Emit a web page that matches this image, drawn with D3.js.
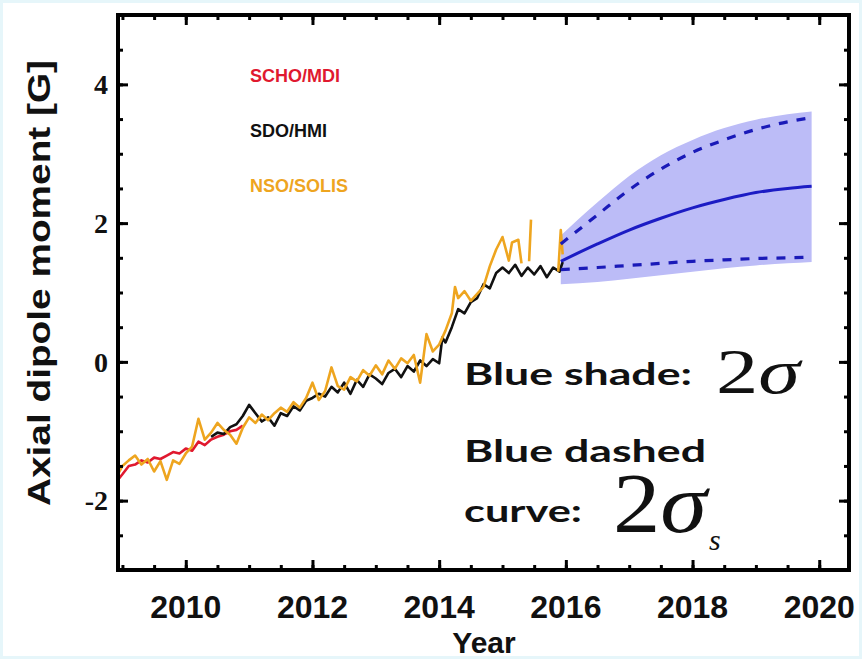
<!DOCTYPE html>
<html>
<head>
<meta charset="utf-8">
<script src="https://cdn.jsdelivr.net/npm/d3@7"></script>
<style>
  html, body { margin: 0; padding: 0; background: #fff; }
  svg { display: block; }
</style>
</head>
<body>
<svg id="chart" width="862" height="659"></svg>
<script>
// ---- Observations: axial dipole moment [G] ----
const mdiYears = [2008.93, 2009.0, 2009.1, 2009.2, 2009.3, 2009.4, 2009.5, 2009.6, 2009.7, 2009.8, 2009.9,
  2010.0, 2010.1, 2010.2, 2010.3, 2010.4, 2010.5, 2010.6, 2010.7, 2010.8, 2010.9];
const mdiValues = [-1.70, -1.62, -1.50, -1.48, -1.42, -1.45, -1.38, -1.40, -1.35, -1.30, -1.32,
  -1.25, -1.28, -1.15, -1.20, -1.12, -1.08, -1.05, -1.00, -0.98, -0.92];

const hmiYears = [2010.4, 2010.5, 2010.6, 2010.7, 2010.8, 2010.9, 2011.0, 2011.1, 2011.2, 2011.3, 2011.4,
  2011.5, 2011.6, 2011.7, 2011.8, 2011.9, 2012.0, 2012.1, 2012.2, 2012.3, 2012.4, 2012.5, 2012.6,
  2012.7, 2012.8, 2012.9, 2013.0, 2013.1, 2013.2, 2013.3, 2013.4, 2013.5, 2013.6, 2013.7, 2013.8,
  2013.9, 2014.0, 2014.05, 2014.1, 2014.2, 2014.3, 2014.4, 2014.5, 2014.6, 2014.7, 2014.8, 2014.9,
  2015.0, 2015.1, 2015.2, 2015.3, 2015.4, 2015.5, 2015.6, 2015.7, 2015.8, 2015.9, 2015.95];
const hmiValues = [-1.08, -1.02, -1.04, -0.94, -0.90, -0.78, -0.62, -0.74, -0.86, -0.80, -0.92,
  -0.74, -0.78, -0.64, -0.70, -0.56, -0.52, -0.46, -0.50, -0.36, -0.44, -0.30, -0.46,
  -0.26, -0.36, -0.18, -0.24, -0.32, -0.16, -0.10, -0.22, -0.06, -0.14, 0.02, -0.06,
  0.04, -0.02, 0.35, 0.28, 0.50, 0.76, 0.70, 0.86, 0.92, 1.12, 1.06, 1.28,
  1.36, 1.28, 1.40, 1.24, 1.36, 1.26, 1.38, 1.22, 1.36, 1.30, 1.44];

const solisYears = [2008.93, 2009.0, 2009.1, 2009.2, 2009.3, 2009.4, 2009.5, 2009.6, 2009.7, 2009.8, 2009.9,
  2010.0, 2010.1, 2010.2, 2010.3, 2010.4, 2010.5, 2010.6, 2010.7, 2010.8, 2010.9,
  2011.0, 2011.1, 2011.2, 2011.3, 2011.4, 2011.5, 2011.6, 2011.7, 2011.8, 2011.9,
  2012.0, 2012.1, 2012.2, 2012.3, 2012.4, 2012.5, 2012.6, 2012.7, 2012.8, 2012.9,
  2013.0, 2013.1, 2013.2, 2013.3, 2013.4, 2013.5, 2013.6, 2013.7, 2013.8, 2013.9,
  2014.0, 2014.1, 2014.2, 2014.25, 2014.3, 2014.4, 2014.5, 2014.6, 2014.7, 2014.8, 2014.9,
  2015.0, 2015.1, 2015.15, 2015.25, 2015.3, 2015.35, 2015.42, 2015.45, 2015.5, 2015.88, 2015.92, 2015.95];
const solisValues = [-1.62, -1.50, -1.42, -1.35, -1.48, -1.40, -1.58, -1.43, -1.70, -1.42, -1.47,
  -1.32, -1.22, -0.82, -1.12, -1.02, -0.88, -0.98, -1.05, -1.18, -0.95,
  -0.80, -0.88, -0.76, -0.84, -0.74, -0.66, -0.72, -0.58, -0.66, -0.52,
  -0.30, -0.55, -0.42, -0.08, -0.35, -0.40, -0.22, -0.28, -0.12, -0.20,
  -0.05, -0.18, 0.02, -0.10, 0.05, -0.02, 0.10, -0.30, 0.40, 0.15,
  0.25, 0.45, 0.70, 1.08, 0.92, 1.02, 0.88, 0.98, 1.08, 1.38, 1.62,
  1.80, 1.46, 1.72, 1.76, 1.42, null, 1.45, 2.05, null, 1.30, 1.90, 1.55];

// ---- Prediction ----
const predYears = [2015.92, 2016.5, 2017.0, 2017.5, 2018.0, 2018.5, 2019.0, 2019.5, 2019.88];
const predMean = [1.45, 1.70, 1.90, 2.07, 2.22, 2.34, 2.44, 2.50, 2.53];
const predBandHigh = [1.82, 2.30, 2.68, 2.98, 3.20, 3.37, 3.49, 3.57, 3.61];
const predBandLow = [1.12, 1.15, 1.20, 1.25, 1.30, 1.35, 1.39, 1.42, 1.44];
const predDashHigh = [1.70, 2.12, 2.48, 2.78, 3.02, 3.20, 3.35, 3.46, 3.52];
const predDashLow = [1.33, 1.36, 1.39, 1.42, 1.45, 1.47, 1.49, 1.50, 1.51];

// ---- Axes ----
const xMajorTicks = [2010, 2012, 2014, 2016, 2018, 2020];
const xMinorTicks = d3.range(2009, 2020.01, 0.5);
const yMajorTicks = [-2, 0, 2, 4];
const yMinorTicks = d3.range(-3, 5.01, 0.5);

const legendLabels = ["SCHO/MDI", "SDO/HMI", "NSO/SOLIS"];
const legendColors = ["#e0192f", "#111111", "#eea51f"];

const svg = d3.select("#chart");
const W = 862, H = 659;
const frameL = 118, frameR = 849, frameT = 15, frameB = 570;

// faint tinted border of the canvas
svg.append("rect").attr("x", 1.5).attr("y", 1.5).attr("width", W - 3).attr("height", H - 3)
  .attr("fill", "#fff").attr("stroke", "#e6f6fa").attr("stroke-width", 3);

const x = d3.scaleLinear().domain([2008.93, 2020.47]).range([frameL, frameR]);
const y = d3.scaleLinear().domain([-3, 5]).range([frameB, frameT]);

const plot = svg.append("g");
plot.append("clipPath").attr("id", "clip").append("rect")
  .attr("x", frameL).attr("y", frameT).attr("width", frameR - frameL).attr("height", frameB - frameT);
const clipped = plot.append("g").attr("clip-path", "url(#clip)");

// prediction band
const band = predYears.map((t, i) => ({ t, lo: predBandLow[i], hi: predBandHigh[i] }));
clipped.append("path").datum(band)
  .attr("fill", "#bcbcf7")
  .attr("d", d3.area().x(d => x(d.t)).y0(d => y(d.lo)).y1(d => y(d.hi)).curve(d3.curveMonotoneX));

const lineOf = (ys, vs) => ys.map((t, i) => ({ t, v: vs[i] }));
const line = d3.line().defined(d => d.v !== null).x(d => x(d.t)).y(d => y(d.v));
const smooth = d3.line().x(d => x(d.t)).y(d => y(d.v)).curve(d3.curveMonotoneX);

// observations
[[mdiYears, mdiValues, legendColors[0]],
 [hmiYears, hmiValues, legendColors[1]],
 [solisYears, solisValues, legendColors[2]]].forEach(([ys, vs, c]) => {
  clipped.append("path").datum(lineOf(ys, vs))
    .attr("fill", "none").attr("stroke", c).attr("stroke-width", 2.6)
    .attr("stroke-linejoin", "round").attr("d", line);
});

// prediction curves
clipped.append("path").datum(lineOf(predYears, predMean))
  .attr("fill", "none").attr("stroke", "#1c1cc4").attr("stroke-width", 3).attr("d", smooth);
[predDashHigh, predDashLow].forEach(vs => {
  clipped.append("path").datum(lineOf(predYears, vs))
    .attr("fill", "none").attr("stroke", "#1a1ab8").attr("stroke-width", 3.2)
    .attr("stroke-dasharray", "9,9").attr("d", smooth);
});

// inward ticks on all four sides
function ticks(axisFn, scale, values, size, transform) {
  const g = svg.append("g").attr("transform", transform)
    .call(axisFn(scale).tickValues(values).tickSize(-size).tickFormat(""));
  g.select(".domain").remove();
  g.selectAll(".tick line").attr("stroke", "#000").attr("stroke-width", 3);
  return g;
}
ticks(d3.axisBottom, x, xMinorTicks, 5, `translate(0,${frameB})`);
ticks(d3.axisBottom, x, xMajorTicks, 10, `translate(0,${frameB})`);
ticks(d3.axisTop, x, xMinorTicks, 5, `translate(0,${frameT})`);
ticks(d3.axisTop, x, xMajorTicks, 10, `translate(0,${frameT})`);
ticks(d3.axisLeft, y, yMinorTicks, 5, `translate(${frameL},0)`);
ticks(d3.axisLeft, y, yMajorTicks, 10, `translate(${frameL},0)`);
ticks(d3.axisRight, y, yMinorTicks, 5, `translate(${frameR},0)`);
ticks(d3.axisRight, y, yMajorTicks, 10, `translate(${frameR},0)`);

// frame
svg.append("rect").attr("x", frameL).attr("y", frameT)
  .attr("width", frameR - frameL).attr("height", frameB - frameT)
  .attr("fill", "none").attr("stroke", "#000").attr("stroke-width", 4);

// tick labels
svg.append("g").selectAll("text").data(xMajorTicks).join("text")
  .attr("x", d => x(d)).attr("y", 618)
  .attr("text-anchor", "middle")
  .attr("font-family", "Liberation Sans, Arial, sans-serif")
  .attr("font-weight", "bold").attr("font-size", 32).attr("fill", "#111")
  .text(d => d);
svg.append("g").selectAll("text").data(yMajorTicks).join("text")
  .attr("x", 108).attr("y", d => y(d)).attr("dy", "0.35em")
  .attr("text-anchor", "end")
  .attr("font-family", "Liberation Serif, Times New Roman, serif")
  .attr("font-weight", "bold").attr("font-size", 28).attr("fill", "#111")
  .text(d => d);

// axis titles
svg.append("text").attr("x", 484).attr("y", 653).attr("text-anchor", "middle")
  .attr("font-family", "Liberation Sans, Arial, sans-serif").attr("font-weight", "bold")
  .attr("font-size", 30).attr("fill", "#111").text("Year");
svg.append("text").attr("transform", "translate(50,283) rotate(-90)")
  .attr("text-anchor", "middle")
  .attr("font-family", "Liberation Sans, Arial, sans-serif").attr("font-weight", "bold")
  .attr("font-size", 31).attr("fill", "#111")
  .attr("textLength", 446).attr("lengthAdjust", "spacingAndGlyphs")
  .text("Axial dipole moment [G]");

// legend
svg.append("g").selectAll("text").data(legendLabels).join("text")
  .attr("x", 250).attr("y", (d, i) => 82 + i * 55)
  .attr("font-family", "Liberation Sans, Arial, sans-serif").attr("font-weight", "bold")
  .attr("font-size", 18).attr("fill", (d, i) => legendColors[i])
  .text(d => d);

// annotations
const note = svg.append("g").attr("fill", "#111");
const sans = "Lato, Open Sans, sans-serif";
const serif = "Liberation Serif, Times New Roman, serif";
note.append("text").attr("x", 464).attr("y", 385).attr("font-family", sans).attr("font-weight", "bold")
  .attr("font-size", 31).attr("textLength", 228).attr("lengthAdjust", "spacingAndGlyphs").text("Blue shade:");
const s1 = note.append("text").attr("x", 716).attr("y", 393).attr("font-family", serif).attr("font-size", 64)
  .attr("textLength", 84).attr("lengthAdjust", "spacingAndGlyphs");
s1.append("tspan").text("2");
s1.append("tspan").attr("font-style", "italic").text("σ");
note.append("text").attr("x", 464).attr("y", 462).attr("font-family", sans).attr("font-weight", "bold")
  .attr("font-size", 31).attr("textLength", 242).attr("lengthAdjust", "spacingAndGlyphs").text("Blue dashed");
note.append("text").attr("x", 464).attr("y", 522).attr("font-family", sans).attr("font-weight", "bold")
  .attr("font-size", 31).attr("textLength", 118).attr("lengthAdjust", "spacingAndGlyphs").text("curve:");
const s2 = note.append("text").attr("x", 613).attr("y", 532).attr("font-family", serif).attr("font-size", 84)
  .attr("textLength", 94).attr("lengthAdjust", "spacingAndGlyphs");
s2.append("tspan").text("2");
s2.append("tspan").attr("font-style", "italic").text("σ");
note.append("text").attr("x", 709).attr("y", 550).attr("font-family", serif).attr("font-style", "italic")
  .attr("font-size", 30).text("s");
</script>
</body>
</html>
